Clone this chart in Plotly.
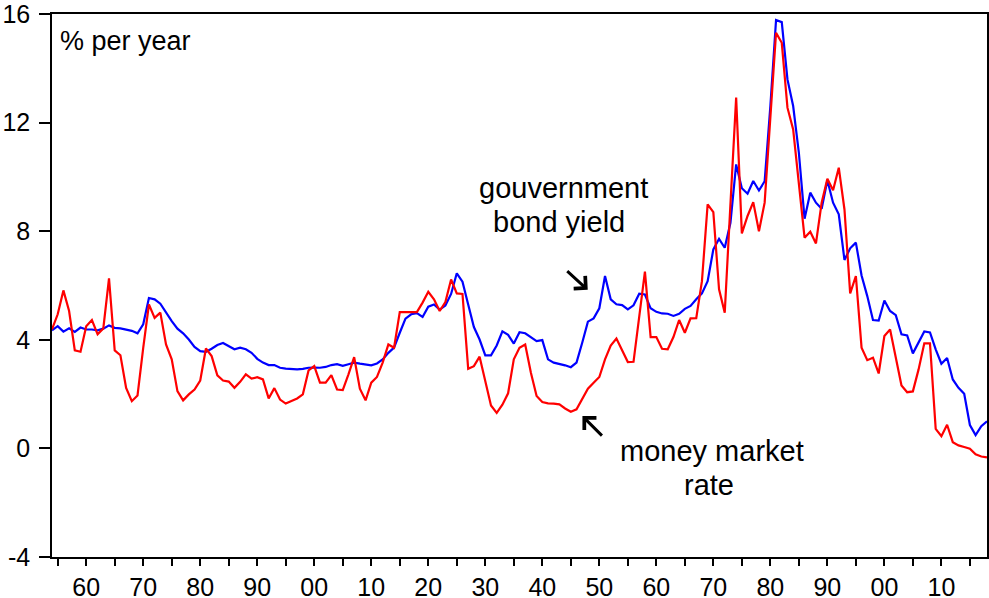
import plotly.graph_objects as go

# annual data, 1854-2018
years = list(range(1854, 2019))

bond_yield = [
    4.35, 4.50, 4.30, 4.42, 4.29, 4.45,
    4.38, 4.38, 4.35, 4.41, 4.53, 4.44, 4.42, 4.38, 4.33, 4.24,
    4.57, 5.54, 5.49, 5.33, 5.00, 4.69, 4.41, 4.24, 4.01, 3.74,
    3.58, 3.56, 3.67, 3.81, 3.88, 3.77, 3.65, 3.71, 3.65, 3.52,
    3.30, 3.16, 3.07, 3.07, 2.97, 2.94, 2.93, 2.91, 2.93, 2.97,
    2.98, 2.97, 3.00, 3.07, 3.10, 3.04, 3.10, 3.16, 3.12, 3.08,
    3.06, 3.13, 3.28, 3.52, 3.71, 4.26, 4.78, 4.94, 4.98, 4.84,
    5.22, 5.30, 5.11, 5.26, 5.69, 6.45, 6.14, 5.30, 4.47, 4.01,
    3.43, 3.43, 3.79, 4.31, 4.18, 3.86, 4.28, 4.24, 4.11, 3.95,
    3.99, 3.28, 3.16, 3.12, 3.06, 2.99, 3.16, 3.89, 4.67, 4.79,
    5.16, 6.35, 5.49, 5.31, 5.28, 5.12, 5.27, 5.70, 5.67, 5.16,
    5.03, 4.97, 4.96, 4.88, 4.96, 5.14, 5.25, 5.49, 5.71, 6.16,
    7.33, 7.72, 7.39, 8.31, 10.46, 9.58, 9.38, 9.85, 9.50, 9.84,
    12.60, 15.78, 15.70, 13.59, 12.61, 10.89, 8.46, 9.42, 9.05, 8.83,
    9.88, 9.05, 8.62, 6.94, 7.37, 7.58, 6.37, 5.61, 4.73, 4.71,
    5.45, 5.06, 4.91, 4.20, 4.16, 3.50, 3.89, 4.31, 4.27, 3.65,
    3.12, 3.33, 2.54, 2.23, 2.01, 0.86, 0.49, 0.82, 1.00,
]

money_market = [
    4.38, 4.94, 5.82, 5.06, 3.61, 3.56,
    4.50, 4.73, 4.20, 4.42, 6.26, 3.61, 3.43, 2.23, 1.74, 1.95,
    3.70, 5.30, 4.81, 5.00, 3.83, 3.28, 2.11, 1.77, 1.99, 2.17,
    2.50, 3.68, 3.40, 2.69, 2.50, 2.46, 2.23, 2.45, 2.73, 2.57,
    2.62, 2.54, 1.84, 2.22, 1.80, 1.65, 1.75, 1.84, 1.99, 2.87,
    3.03, 2.42, 2.42, 2.70, 2.17, 2.15, 2.73, 3.36, 2.20, 1.77,
    2.42, 2.63, 3.16, 3.83, 3.71, 5.02, 5.02, 5.02, 5.02, 5.37,
    5.77, 5.49, 5.06, 5.39, 6.22, 5.71, 5.69, 2.93, 3.03, 3.38,
    2.42, 1.58, 1.31, 1.61, 2.03, 3.28, 3.71, 3.83, 2.79, 1.93,
    1.71, 1.66, 1.65, 1.62, 1.47, 1.35, 1.44, 1.83, 2.20, 2.42,
    2.63, 3.28, 3.79, 4.05, 3.62, 3.18, 3.19, 4.87, 6.51, 4.10,
    4.10, 3.67, 3.65, 4.10, 4.73, 4.26, 4.79, 4.80, 6.16, 8.99,
    8.70, 5.86, 5.00, 9.00, 12.92, 7.92, 8.56, 9.07, 8.00, 9.05,
    12.20, 15.31, 14.94, 12.55, 11.75, 9.79, 7.76, 7.98, 7.55, 9.05,
    9.93, 9.51, 10.34, 8.80, 5.71, 6.35, 3.71, 3.25, 3.34, 2.76,
    4.14, 4.38, 3.34, 2.32, 2.07, 2.10, 2.91, 3.87, 3.87, 0.72,
    0.45, 0.87, 0.23, 0.11, 0.05, -0.01, -0.22, -0.30, -0.33,
]

x_tick_vals = list(range(1855, 2019, 5))
x_tick_text = ["", "60", "", "70", "", "80", "", "90", "", "00", "", "10", "",
               "20", "", "30", "", "40", "", "50", "", "60", "", "70", "",
               "80", "", "90", "", "00", "", "10", ""]
y_tick_vals = [-4, 0, 4, 8, 12, 16]
y_tick_text = ["-4", "0", "4", "8", "12", "16"]

fig = go.Figure()
fig.add_trace(go.Scatter(x=years, y=bond_yield, mode='lines', name='gouvernment bond yield',
                         line=dict(color='#0000FF', width=2.2)))
fig.add_trace(go.Scatter(x=years, y=money_market, mode='lines', name='money market rate',
                         line=dict(color='#FF0000', width=2.2)))

axis_style = dict(showline=True, linecolor='black', linewidth=1.5, mirror=True,
                  ticks='outside', tickcolor='black', tickwidth=1.5,
                  showgrid=False, zeroline=False, automargin=False,
                  ticklabeloverflow='allow')

fig.update_xaxes(range=[1854, 2018], tickvals=x_tick_vals, ticktext=x_tick_text,
                 ticklen=7, ticklabelstandoff=0, **axis_style)
fig.update_yaxes(range=[-4, 16], tickvals=y_tick_vals, ticktext=y_tick_text,
                 ticklen=11, ticklabelstandoff=4, **axis_style)

# texts
fig.add_annotation(x=1855.0, y=15.0, text="% per year", showarrow=False,
                   xanchor='left', yanchor='middle', font=dict(size=27))
fig.add_annotation(x=1943.7, y=9.58, text="gouvernment", showarrow=False, font=dict(size=29))
fig.add_annotation(x=1943.0, y=8.35, text="bond yield", showarrow=False, font=dict(size=29))
fig.add_annotation(x=1969.7, y=-0.10, text="money market", showarrow=False, font=dict(size=29))
fig.add_annotation(x=1969.2, y=-1.35, text="rate", showarrow=False, font=dict(size=29))

# arrows
fig.add_annotation(x=1947.97, y=5.84, ax=-22, ay=-20, text="", showarrow=True,
                   arrowhead=4, arrowsize=1.1, arrowwidth=3, arrowcolor='black')
fig.add_annotation(x=1947.04, y=1.19, ax=21, ay=21, text="", showarrow=True,
                   arrowhead=4, arrowsize=1.1, arrowwidth=3, arrowcolor='black')

fig.update_layout(
    width=989, height=598,
    margin=dict(l=52, r=2, t=14, b=41),
    plot_bgcolor='white', paper_bgcolor='white',
    showlegend=False,
    font=dict(family='Liberation Sans, Arial, sans-serif', size=25, color='black'),
)

# drop the default 8px page margin so the figure fills the window
fig.write_html("out.html", config={'displayModeBar': False},
               post_script="document.body.style.margin = '0';")
